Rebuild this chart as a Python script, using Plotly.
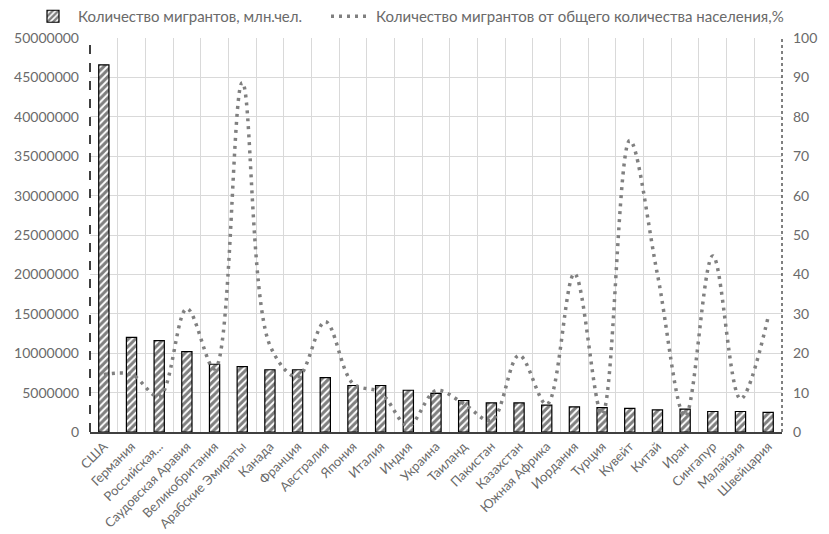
import plotly.graph_objects as go

countries = ["США", "Германия", "Российская...", "Саудовская Аравия", "Великобритания",
             "Арабские Эмираты", "Канада", "Франция", "Австралия", "Япония", "Италия",
             "Индия", "Украина", "Таиланд", "Пакистан", "Казахстан", "Южная Африка",
             "Иордания", "Турция", "Кувейт", "Китай", "Иран", "Сингапур", "Малайзия",
             "Швейцария"]
migrants = [46600000, 12000000, 11600000, 10200000, 8600000, 8300000, 7900000, 7900000,
            6900000, 5900000, 5900000, 5300000, 4900000, 4000000, 3700000, 3700000,
            3400000, 3200000, 3100000, 3000000, 2800000, 2900000, 2600000, 2600000, 2500000]
share_pct = [14.6, 14.6, 9.0, 31.3, 16.0, 88.7, 22.0, 14.0, 28.0, 12.3, 10.0, 1.6, 10.5,
             7.2, 2.9, 19.5, 7.0, 40.2, 4.5, 74.0, 40.0, 4.0, 44.7, 8.4, 29.2]

left_ticks = list(range(0, 50000001, 5000000))

font_family = "Lato, 'Open Sans', sans-serif"
txt = "#6a6a6a"

fig = go.Figure()
fig.add_trace(go.Bar(
    x=countries, y=migrants, name="Количество мигрантов, млн.чел.",
    marker=dict(color="white", line=dict(color="black", width=1.2),
                pattern=dict(shape="/", fgcolor="black", bgcolor="white", size=5, solidity=0.6)),
    yaxis="y", legend="legend",
))
fig.add_trace(go.Scatter(
    x=countries, y=share_pct, name="Количество мигрантов от общего количества населения,%",
    mode="lines", line=dict(color="#808080", width=3.5, dash="3px,5px", shape="spline", smoothing=1),
    yaxis="y2", legend="legend2",
))

legend_common = dict(orientation="h", xref="container", yref="container", y=1.0,
                     xanchor="left", yanchor="top", font=dict(size=15, color=txt),
                     bgcolor="rgba(0,0,0,0)", itemwidth=40)

fig.update_layout(
    width=829, height=534, autosize=False,
    margin=dict(l=90, r=47, t=38, b=102, autoexpand=False),
    paper_bgcolor="white", plot_bgcolor="white",
    font=dict(family=font_family, size=14, color=txt),
    bargap=0.63,
    showlegend=True,
    legend=dict(legend_common, x=28 / 829),
    legend2=dict(legend_common, x=326 / 829),
    xaxis=dict(type="category", tickangle=-45, tickson="boundaries", showgrid=True,
               gridcolor="#d9d9d9", gridwidth=1, showline=True, linecolor="#404040",
               linewidth=1.5, ticks="", tickfont=dict(size=13, color=txt)),
    yaxis=dict(range=[0, 50000000], tickvals=left_ticks, tickformat="d", showgrid=True,
               gridcolor="#d9d9d9", gridwidth=1, zeroline=False, showline=False,
               ticks="", ticklabelstandoff=10, tickfont=dict(size=14, color=txt)),
    yaxis2=dict(range=[0, 100], dtick=10, overlaying="y", side="right", showgrid=False,
                zeroline=False, showline=False, ticks="", ticklabelstandoff=10,
                tickfont=dict(size=14, color=txt)),
    shapes=[
        dict(type="line", xref="paper", yref="paper", x0=0, x1=0, y0=0, y1=1,
             line=dict(color="black", width=1.5, dash="dash")),
        dict(type="line", xref="paper", yref="paper", x0=1, x1=1, y0=0, y1=1,
             line=dict(color="black", width=1, dash="dot")),
    ],
)

fig.write_html("out.html")
